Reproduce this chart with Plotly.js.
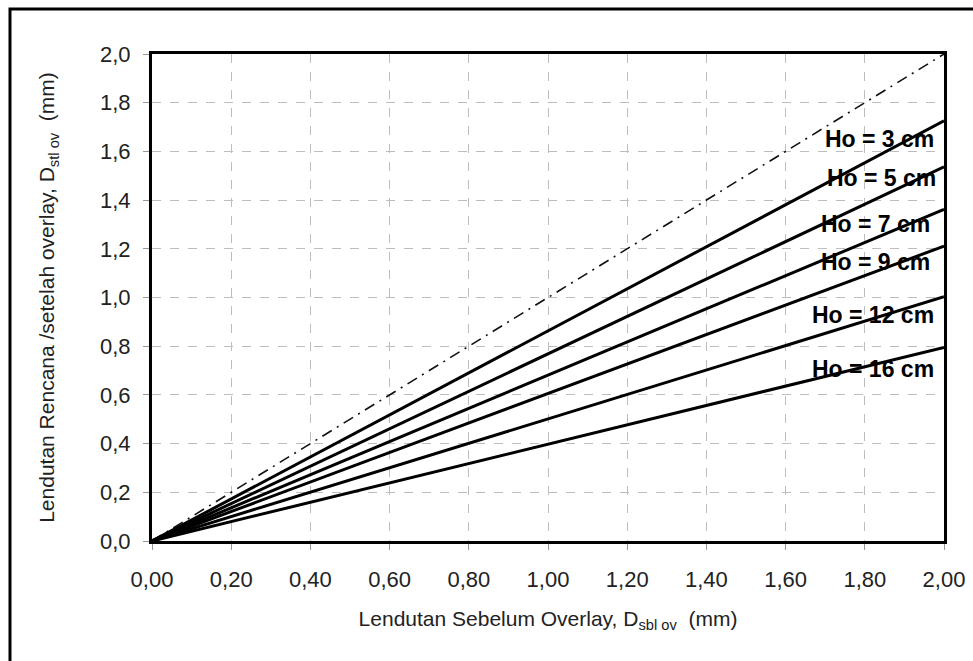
<!DOCTYPE html>
<html>
<head>
<meta charset="utf-8">
<script src="https://cdn.plot.ly/plotly-3.0.1.min.js"></script>
<style>html,body{margin:0;padding:0;background:#fff;}#chart{width:973px;height:661px;}</style>
</head>
<body>
<div id="chart"></div>
<script>
// Data
const xVals = [0, 2.0];
const refLine = [0, 2.0];              // y = x (dash-dot)
const ho3  = [0, 1.726];
const ho5  = [0, 1.537];
const ho7  = [0, 1.362];
const ho9  = [0, 1.211];
const ho12 = [0, 1.003];
const ho16 = [0, 0.795];
const seriesNames = ['Ho = 3 cm', 'Ho = 5 cm', 'Ho = 7 cm', 'Ho = 9 cm', 'Ho = 12 cm', 'Ho = 16 cm'];
const seriesY = [ho3, ho5, ho7, ho9, ho12, ho16];
// label anchor positions (data units, right edge)
const labelX = [1.98, 1.985, 1.97, 1.97, 1.98, 1.98];
const labelY = [1.65, 1.49, 1.30, 1.146, 0.928, 0.706];

const traces = [{
  x: xVals, y: refLine, mode: 'lines', showlegend: false, hoverinfo: 'skip',
  line: {color: '#111', width: 1.6, dash: '11px,6px,2px,6px'}
}];
seriesY.forEach((ys, i) => {
  traces.push({
    x: xVals, y: ys, mode: 'lines', name: seriesNames[i], showlegend: false,
    line: {color: '#000', width: 3}
  });
});

const annotations = seriesNames.map((t, i) => ({
  x: labelX[i], y: labelY[i], xref: 'x', yref: 'y', text: '<b>' + t + '</b>',
  showarrow: false, xanchor: 'right', yanchor: 'middle',
  font: {family: 'Liberation Sans, Arial, sans-serif', size: 23, color: '#000'}
}));

const axisCommon = {
  showline: true, linecolor: '#000', linewidth: 3, mirror: true,
  showgrid: true, gridcolor: '#bdbdbd', gridwidth: 1, griddash: 'dash',
  zeroline: false, ticks: 'outside', ticklen: 6, tickcolor: '#999', tickwidth: 1,
  tickfont: {family: 'Liberation Sans, Arial, sans-serif', size: 22, color: '#222'},
  range: [0, 2.0], dtick: 0.2, tick0: 0
};

const layout = {
  width: 973, height: 661,
  margin: {l: 152, r: 29, t: 54, b: 120},
  paper_bgcolor: '#fff', plot_bgcolor: '#fff',
  separators: ',.',
  showlegend: false,
  font: {family: 'Liberation Sans, Arial, sans-serif', color: '#222'},
  xaxis: Object.assign({}, axisCommon, {
    tickformat: '.2f', ticklabelstandoff: 11,
    title: {text: 'Lendutan Sebelum Overlay, D<sub>sbl ov</sub>  (mm)',
            font: {size: 21, color: '#222'}, standoff: 20}
  }),
  yaxis: Object.assign({}, axisCommon, {
    tickformat: '.1f', ticklabelstandoff: 8,
    title: {text: 'Lendutan Rencana /setelah overlay, D<sub>stl ov</sub>  (mm)',
            font: {size: 21, color: '#222'}, standoff: 40}
  }),
  annotations: annotations,
  shapes: [{
    type: 'rect', xref: 'paper', yref: 'paper',
    x0: -0.1793, x1: 1.2, y0: -0.4, y1: 1.0924,
    line: {color: '#000', width: 3}, fillcolor: 'rgba(0,0,0,0)', layer: 'above'
  }]
};

Plotly.newPlot('chart', traces, layout, {displayModeBar: false, staticPlot: true});
</script>
</body>
</html>
